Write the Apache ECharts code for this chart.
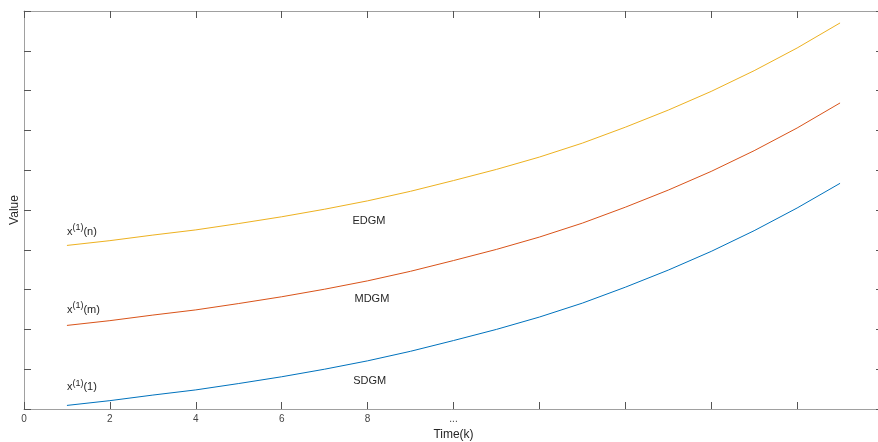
<!DOCTYPE html>
<html>
<head>
<meta charset="utf-8">
<script src="https://cdn.jsdelivr.net/npm/echarts@6/dist/echarts.min.js"></script>
<style>
    html, body { margin: 0; padding: 0; background: #fff; }
</style>
</head>
<body>
<div id="container" style="width: 878px; height: 442px;"></div>
<script>
    // time steps k = 1..19
    var timeK = [1, 2, 3, 4, 5, 6, 7, 8, 9, 10, 11, 12, 13, 14, 15, 16, 17, 18, 19];
    var sdgm = [0.09, 0.21, 0.35, 0.48, 0.64, 0.81, 1.00, 1.21, 1.45, 1.72, 2.00, 2.31, 2.66, 3.06, 3.49, 3.96, 4.48, 5.05, 5.67];
    var mdgm = [2.10, 2.22, 2.36, 2.49, 2.65, 2.82, 3.01, 3.22, 3.46, 3.73, 4.01, 4.32, 4.67, 5.07, 5.50, 5.97, 6.49, 7.06, 7.69];
    var edgm = [4.11, 4.23, 4.37, 4.50, 4.66, 4.83, 5.02, 5.23, 5.47, 5.74, 6.02, 6.33, 6.68, 7.08, 7.51, 7.98, 8.50, 9.07, 9.70];
    var xTickLabels = {0: '0', 2: '2', 4: '4', 6: '6', 8: '8', 10: '...'};

    var font = '"Liberation Sans", Arial, sans-serif';
    var textColor = '#262626';

    function pairs(ys) {
        return timeK.map(function (k, i) { return [k, ys[i]]; });
    }

    // x^(1)(..) annotation next to the start of each curve
    function startLabel(sub, coord) {
        return {
            coord: coord,
            symbol: 'circle',
            symbolSize: 0,
            label: {
                show: true,
                position: 'inside',
                align: 'left',
                formatter: '{a|x}{s|(1)}{a|(' + sub + ')}',
                rich: {
                    a: {fontSize: 11, fontFamily: font, color: textColor},
                    s: {fontSize: 9, fontFamily: font, color: textColor, padding: [0, 0, 8, 0]}
                }
            }
        };
    }

    function nameLabel(text, coord) {
        return {
            coord: coord,
            symbol: 'circle',
            symbolSize: 0,
            label: {
                show: true,
                position: 'inside',
                formatter: text,
                fontSize: 11,
                fontFamily: font,
                color: textColor
            }
        };
    }

    function lineSeries(name, ys, color, marks) {
        return {
            name: name,
            type: 'line',
            data: pairs(ys),
            showSymbol: false,
            symbol: 'none',
            silent: true,
            lineStyle: {color: color, width: 1},
            itemStyle: {color: color},
            markPoint: {silent: true, data: marks}
        };
    }

    function boxLine() {
        return {show: true, onZero: false, lineStyle: {color: '#a0a0a0', width: 1}};
    }
    function tickIn() {
        return {show: true, inside: true, length: 7, lineStyle: {color: '#555'}};
    }

    var myChart = echarts.init(document.getElementById('container'));

    var option = {
        animation: false,
        backgroundColor: '#fff',
        grid: {left: 24, right: -5, top: 11, bottom: 33, outerBoundsMode: 'none'},
        xAxis: [{
            type: 'value',
            min: 0,
            max: 20,
            interval: 2,
            name: 'Time(k)',
            nameLocation: 'middle',
            nameGap: 19,
            nameTextStyle: {fontSize: 12, fontFamily: font, color: textColor},
            axisLine: boxLine(),
            axisTick: tickIn(),
            axisLabel: {
                margin: 5,
                fontSize: 10,
                fontFamily: font,
                color: '#444',
                formatter: function (v) { return xTickLabels[v] !== undefined ? xTickLabels[v] : ''; }
            },
            splitLine: {show: false}
        }, {
            type: 'value',
            position: 'top',
            min: 0,
            max: 20,
            interval: 2,
            axisLine: boxLine(),
            axisTick: tickIn(),
            axisLabel: {show: false},
            splitLine: {show: false}
        }],
        yAxis: [{
            type: 'value',
            min: 0,
            max: 10,
            interval: 1,
            name: 'Value',
            nameLocation: 'middle',
            nameGap: 3,
            nameRotate: 90,
            nameTextStyle: {fontSize: 12, fontFamily: font, color: textColor},
            axisLine: boxLine(),
            axisTick: tickIn(),
            axisLabel: {show: false},
            splitLine: {show: false}
        }, {
            type: 'value',
            position: 'right',
            min: 0,
            max: 10,
            interval: 1,
            axisLine: boxLine(),
            axisTick: tickIn(),
            axisLabel: {show: false},
            splitLine: {show: false}
        }],
        series: [
            lineSeries('SDGM', sdgm, '#0072BD', [startLabel('1', [1.0, 0.55]), nameLabel('SDGM', [8.05, 0.7])]),
            lineSeries('MDGM', mdgm, '#D95319', [startLabel('m', [1.0, 2.5]), nameLabel('MDGM', [8.1, 2.76])]),
            lineSeries('EDGM', edgm, '#EDB120', [startLabel('n', [1.0, 4.45]), nameLabel('EDGM', [8.03, 4.72])])
        ]
    };

    myChart.setOption(option);
</script>
</body>
</html>
